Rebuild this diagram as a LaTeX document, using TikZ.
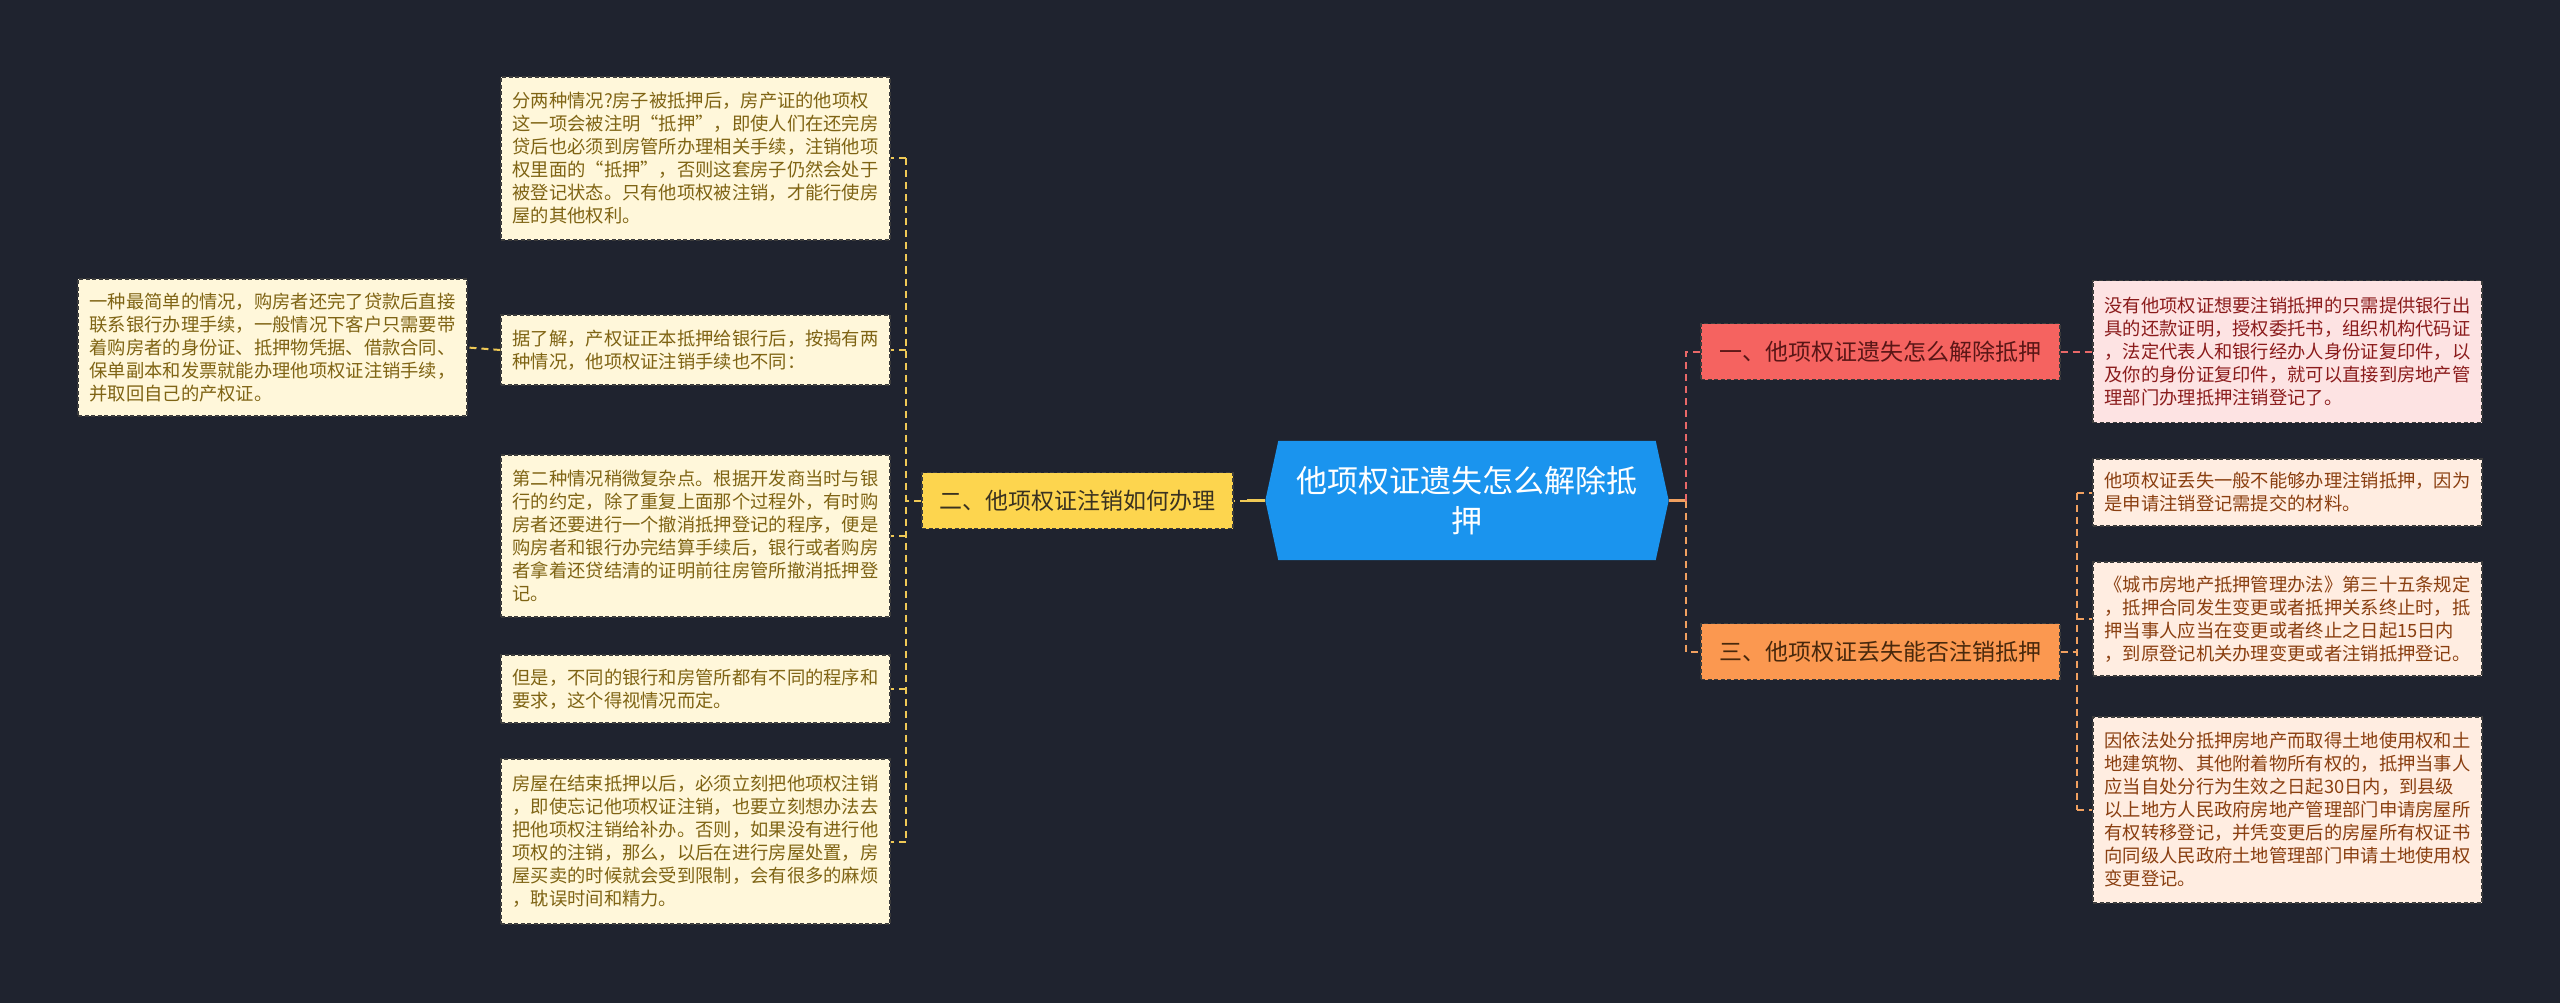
\documentclass[tikz,border=0pt]{standalone}
\usepackage{fontspec}
\setmainfont{Noto Sans CJK SC}
\usetikzlibrary{backgrounds}
\definecolor{bgc}{HTML}{1F232F}
\definecolor{cblue}{HTML}{1A94EE}
\definecolor{cream}{HTML}{FFF7DA}
\definecolor{creamtext}{HTML}{7F6414}
\definecolor{ynode}{HTML}{FDD54E}
\definecolor{ytext}{HTML}{3A3220}
\definecolor{rnode}{HTML}{F56360}
\definecolor{rtext}{HTML}{5A1616}
\definecolor{pinkfill}{HTML}{FDE3E3}
\definecolor{pinktext}{HTML}{8B1C1C}
\definecolor{onode}{HTML}{FB9850}
\definecolor{otext}{HTML}{48280C}
\definecolor{ofill}{HTML}{FFEDE1}
\definecolor{oleaftext}{HTML}{8A3F10}
\definecolor{bordc}{HTML}{3C3C3C}
\definecolor{yl}{HTML}{EFC956}
\definecolor{rl}{HTML}{E86868}
\definecolor{ol}{HTML}{F0A060}
\begin{document}
\begin{tikzpicture}[x=1pt,y=-1pt,
  leaf/.style={draw=bordc, dash pattern=on 4pt off 2.5pt, line width=1.2pt,
    text width=366pt, align=left, inner xsep=11.5pt, inner ysep=0pt,
    font=\fontsize{18.3}{23}\selectfont},
  creamleaf/.style={leaf, fill=cream, text=creamtext},
  pinkleaf/.style={leaf, fill=pinkfill, text=pinktext},
  oleaf/.style={leaf, fill=ofill, text=oleaftext},
  branch/.style={draw=bordc, dash pattern=on 4pt off 2.5pt, line width=1.2pt,
    minimum height=56pt, inner sep=0pt, font=\fontsize{23}{28}\selectfont},
  ydash/.style={draw=yl, line width=2pt, dash pattern=on 7pt off 5pt},
  rdash/.style={draw=rl, line width=2pt, dash pattern=on 7pt off 5pt},
  odash/.style={draw=ol, line width=2pt, dash pattern=on 7pt off 5pt},
  yline/.style={draw=yl, line width=3pt},
  oline/.style={draw=ol, line width=3pt}
]
\useasboundingbox (0,0) rectangle (2560,1003);
\begin{scope}[on background layer]
\fill[bgc] (0,0) rectangle (2560,1003);
\end{scope}

% central node
\node[text=white, align=center, inner sep=0pt, minimum width=377pt, minimum height=119pt,
  font=\fontsize{31}{40}\selectfont] (c) at (1467,500.5) {他项权证遗失怎么解除抵\\押};
\begin{scope}[on background layer]
\fill[cblue] (c.north west) -- (c.north east) -- ([xshift=13pt]c.east) -- (c.south east)
  -- (c.south west) -- ([xshift=-13pt]c.west) -- cycle;
\end{scope}
\coordinate (cw) at ([xshift=-13pt]c.west);
\coordinate (ce) at ([xshift=13pt]c.east);

% left branch
\node[branch, fill=ynode, text=ytext, minimum width=311pt] (Y) at (1077.5,500.5) {二、他项权证注销如何办理};

\node[creamleaf, minimum height=163pt] (L1) at (695.5,158.5) {分两种情况?房子被抵押后，房产证的他项权\\这一项会被注明“抵押”，即使人们在还完房\\贷后也必须到房管所办理相关手续，注销他项\\权里面的“抵押”，否则这套房子仍然会处于\\被登记状态。只有他项权被注销，才能行使房\\屋的其他权利。};
\node[creamleaf, minimum height=70pt] (L2) at (695.5,350) {据了解，产权证正本抵押给银行后，按揭有两\\种情况，他项权证注销手续也不同：};
\node[creamleaf, minimum height=162pt] (L3) at (695.5,536) {第二种情况稍微复杂点。根据开发商当时与银\\行的约定，除了重复上面那个过程外，有时购\\房者还要进行一个撤消抵押登记的程序，便是\\购房者和银行办完结算手续后，银行或者购房\\者拿着还贷结清的证明前往房管所撤消抵押登\\记。};
\node[creamleaf, minimum height=68pt] (L4) at (695.5,689) {但是，不同的银行和房管所都有不同的程序和\\要求，这个得视情况而定。};
\node[creamleaf, minimum height=165pt] (L5) at (695.5,841.5) {房屋在结束抵押以后，必须立刻把他项权注销\\，即使忘记他项权证注销，也要立刻想办法去\\把他项权注销给补办。否则，如果没有进行他\\项权的注销，那么，以后在进行房屋处置，房\\屋买卖的时候就会受到限制，会有很多的麻烦\\，耽误时间和精力。};
\node[creamleaf, minimum height=137pt] (F) at (272.5,347.5) {一种最简单的情况，购房者还完了贷款后直接\\联系银行办理手续，一般情况下客户只需要带\\着购房者的身份证、抵押物凭据、借款合同、\\保单副本和发票就能办理他项权证注销手续，\\并取回自己的产权证。};

\coordinate (yj) at (1247,500.5);
\draw[yline] (cw) -- (yj);
\draw[ydash] (yj) -- (Y.east);
\coordinate (lb) at (906,500.5);
\draw[ydash] (Y.west) -- (lb);
\draw[ydash] (lb |- L1.east) -- (lb |- L5.east);
\foreach \n in {L1,L2,L3,L4,L5} {\draw[ydash] (lb |- \n.east) -- (\n.east);}
\draw[ydash] (L2.west) -- (F.east);

% right branches
\node[branch, fill=rnode, text=rtext, minimum width=359pt] (R) at (1880.5,351.5) {一、他项权证遗失怎么解除抵押};
\node[branch, fill=onode, text=otext, minimum width=359pt] (O) at (1880.5,651.5) {三、他项权证丢失能否注销抵押};

\node[pinkleaf, minimum height=142pt] (P) at (2287.5,351.5) {没有他项权证想要注销抵押的只需提供银行出\\具的还款证明，授权委托书，组织机构代码证\\，法定代表人和银行经办人身份证复印件，以\\及你的身份证复印件，就可以直接到房地产管\\理部门办理抵押注销登记了。};
\node[oleaf, minimum height=67pt] (Ra) at (2287.5,492.5) {他项权证丢失一般不能够办理注销抵押，因为\\是申请注销登记需提交的材料。};
\node[oleaf, minimum height=114pt] (Rb) at (2287.5,619) {《城市房地产抵押管理办法》第三十五条规定\\，抵押合同发生变更或者抵押关系终止时，抵\\押当事人应当在变更或者终止之日起15日内\\，到原登记机关办理变更或者注销抵押登记。};
\node[oleaf, minimum height=186pt] (Rc) at (2287.5,810) {因依法处分抵押房地产而取得土地使用权和土\\地建筑物、其他附着物所有权的，抵押当事人\\应当自处分行为生效之日起30日内，到县级\\以上地方人民政府房地产管理部门申请房屋所\\有权转移登记，并凭变更后的房屋所有权证书\\向同级人民政府土地管理部门申请土地使用权\\变更登记。};

\coordinate (rb) at (1686,500.5);
\draw[oline] (ce) -- (rb);
\draw[rdash] (rb) -- (rb |- R.west) -- (R.west);
\draw[odash] (rb) -- (rb |- O.west) -- (O.west);
\draw[rdash] (R.east) -- (P.west);
\coordinate (ob) at (2077,651.5);
\draw[odash] (O.east) -- (ob);
\draw[odash] (ob |- Ra.west) -- (ob |- Rc.west);
\foreach \n in {Ra,Rb,Rc} {\draw[odash] (ob |- \n.west) -- (\n.west);}
\end{tikzpicture}
\end{document}
